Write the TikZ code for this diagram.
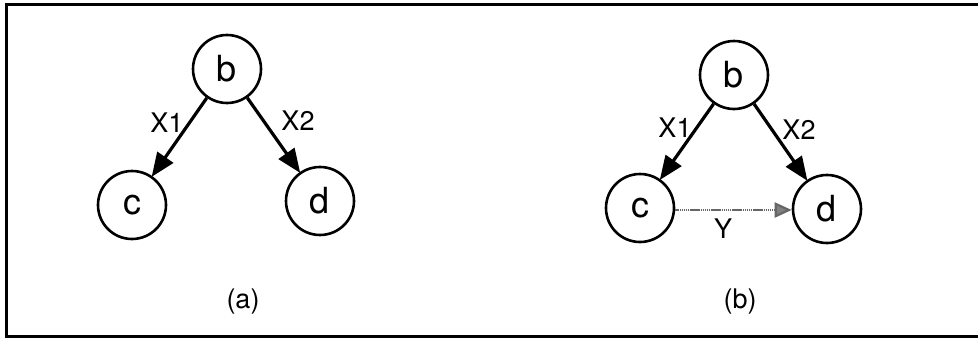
\documentclass[tikz,border=0pt]{standalone}
\usepackage{fontspec}
\setmainfont{TeX Gyre Heros}
\usetikzlibrary{arrows.meta}
\begin{document}
\begin{tikzpicture}[x=1pt,y=-1pt,
  vert/.style={circle,draw,line width=2.6pt,minimum size=68pt,inner sep=0pt,font=\fontsize{36}{36}\selectfont},
  edgelab/.style={font=\fontsize{27}{27}\selectfont,inner sep=0pt},
  caplab/.style={font=\fontsize{27}{27}\selectfont,inner sep=0pt},
  bigarrow/.style={line width=3.2pt,-{Triangle[length=24pt,width=19pt]},shorten >=-1pt},
  grayarrow/.style={line width=2.2pt,draw=black!60,dash pattern=on 1.5pt off 0.6pt,-{Triangle[length=17pt,width=15pt,fill=black!50]}}]
\useasboundingbox (0,0) rectangle (978,338);
% frame (right side open)
\draw[line width=3pt] (978,4) -- (6,4) -- (6,336) -- (978,336);
% (a)
\node[vert] (ab) at (227,69) {b};
\node[vert] (ac) at (132,205) {c};
\node[vert] (ad) at (320,201) {d};
\draw[bigarrow] (ab) -- (ac);
\draw[bigarrow] (ab) -- (ad);
\node[edgelab] (ax1) at (167,123) {X1};
\node[edgelab] (ax2) at (298,121) {X2};
\node[caplab] (acap) at (243,302) {(a)};
% (b)
\node[vert] (bb) at (734,75) {b};
\node[vert] (bc) at (640,208) {c};
\node[vert] (bd) at (827,209) {d};
\draw[bigarrow] (bb) -- (bc);
\draw[bigarrow] (bb) -- (bd);
\draw[grayarrow] (bc.east |- 0,210) -- (bd.west |- 0,210);
\node[edgelab] (bx1) at (675,128) {X1};
\node[edgelab] (bx2) at (799,130) {X2};
\node[edgelab] (by) at (723,229) {Y};
\node[caplab] (bcap) at (740,302) {(b)};
\end{tikzpicture}
\end{document}
